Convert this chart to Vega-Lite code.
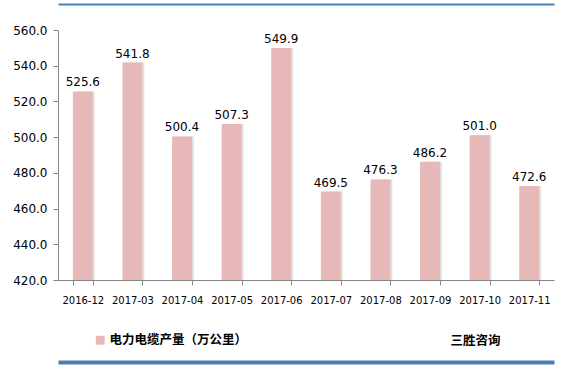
{
  "$schema": "https://vega.github.io/schema/vega-lite/v6.json",
  "width": 496,
  "height": 250,
  "autosize": {"type": "none"},
  "padding": {"left": 58, "top": 30, "right": 10, "bottom": 87},
  "background": "white",
  "config": {"view": {"stroke": null}, "font": "DejaVu Sans"},
  "data": {"values": [
    {"month": "2016-12", "value": 525.6, "series": "电力电缆产量（万公里）"},
    {"month": "2017-03", "value": 541.8, "series": "电力电缆产量（万公里）"},
    {"month": "2017-04", "value": 500.4, "series": "电力电缆产量（万公里）"},
    {"month": "2017-05", "value": 507.3, "series": "电力电缆产量（万公里）"},
    {"month": "2017-06", "value": 549.9, "series": "电力电缆产量（万公里）"},
    {"month": "2017-07", "value": 469.5, "series": "电力电缆产量（万公里）"},
    {"month": "2017-08", "value": 476.3, "series": "电力电缆产量（万公里）"},
    {"month": "2017-09", "value": 486.2, "series": "电力电缆产量（万公里）"},
    {"month": "2017-10", "value": 501.0, "series": "电力电缆产量（万公里）"},
    {"month": "2017-11", "value": 472.6, "series": "电力电缆产量（万公里）"}
  ]},
  "encoding": {
    "y": {"field": "value", "type": "quantitative",
      "scale": {"domain": [420, 560], "zero": false, "nice": false},
      "axis": {"title": null, "values": [420, 440, 460, 480, 500, 520, 540, 560], "format": ".1f", "grid": false,
        "labelFontSize": 12, "labelColor": "#000000", "labelPadding": 6,
        "domainColor": "#888888", "tickColor": "#888888", "tickSize": 5}}
  },
  "resolve": {"axis": {"x": "independent"}},
  "layer": [
    {"mark": {"type": "bar", "color": "#d9d9d9", "xOffset": 2, "opacity": 0.8, "clip": true},
      "encoding": {"x": {"field": "month", "type": "nominal", "sort": null,
        "scale": {"paddingInner": 0.6, "paddingOuter": 0.3},
        "axis": {"orient": "top", "title": null, "labels": false, "ticks": false, "offset": 26,
          "domainColor": "#4a7ebb", "domainWidth": 2}}}},
    {"mark": {"type": "bar", "clip": true},
      "encoding": {
        "x": {"field": "month", "type": "nominal", "sort": null,
          "scale": {"paddingInner": 0.6, "paddingOuter": 0.3},
          "axis": {"title": "三胜咨询", "titleFont": "Noto Sans CJK SC", "titleFontSize": 12.5, "titleFontWeight": "bold", "titleColor": "#000000",
            "titleAnchor": "start", "titleAlign": "left", "titleBaseline": "middle", "titleX": 392, "titleY": 60,
            "labelAngle": 0, "labelFontSize": 10, "labelColor": "#000000", "labelPadding": 10,
            "domainColor": "#888888", "tickColor": "#888888", "tickBand": "extent", "tickSize": 5}},
        "color": {"field": "series", "type": "nominal",
        "scale": {"range": ["#e6b9b8"]},
        "legend": {"title": null, "orient": "none", "legendX": 36, "legendY": 304, "symbolType": "square", "symbolSize": 80,
          "labelFont": "Noto Sans CJK SC", "labelFontSize": 12.5, "labelFontWeight": "bold", "labelColor": "#000000", "labelOffset": 3}}}},
    {"mark": {"type": "text", "baseline": "bottom", "dy": -2, "fontSize": 12, "color": "#000000"},
      "encoding": {
        "x": {"field": "month", "type": "nominal", "sort": null,
          "scale": {"paddingInner": 0.6, "paddingOuter": 0.3},
          "axis": {"orient": "bottom", "title": null, "labels": false, "ticks": false, "offset": 82,
            "domainColor": "#4a7ebb", "domainWidth": 4}},
        "text": {"field": "value", "type": "quantitative", "format": ".1f"}}}
  ]
}
